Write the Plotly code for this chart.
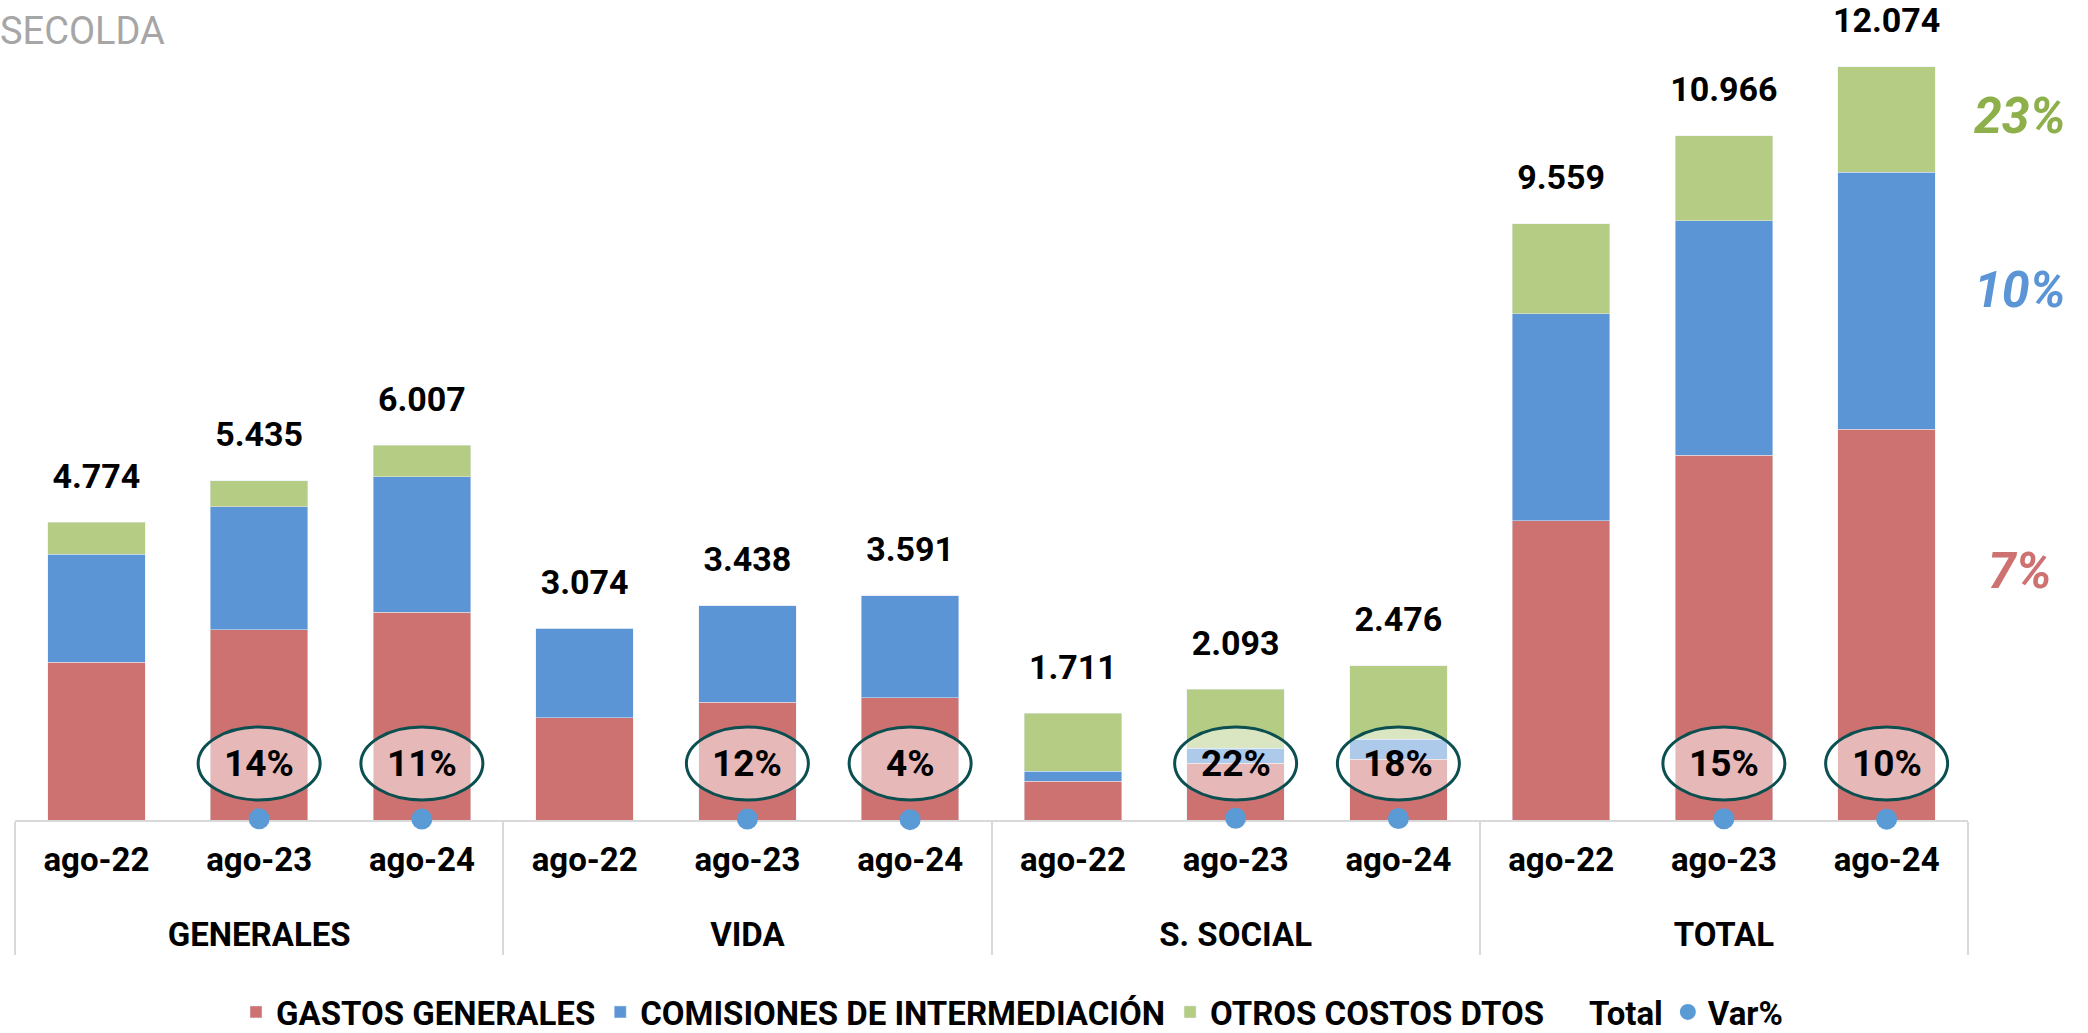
import plotly.graph_objects as go

grupos = ["GENERALES", "VIDA", "S. SOCIAL", "TOTAL"]
periodos = ["ago-22", "ago-23", "ago-24"]

gastos_generales = [2530, 3050, 3330, 1640, 1890, 1960, 625, 909, 973, 4795, 5849, 6263]
comisiones = [1730, 1970, 2170, 1434, 1548, 1631, 160, 240, 320, 3324, 3758, 4121]
otros_costos = [514, 415, 507, 0, 0, 0, 926, 944, 1183, 1440, 1359, 1690]
totales = [4774, 5435, 6007, 3074, 3438, 3591, 1711, 2093, 2476, 9559, 10966, 12074]
var_pct = [None, 0.14, 0.11, None, 0.12, 0.04, None, 0.22, 0.18, None, 0.15, 0.10]

# variacion de cada componente del TOTAL (ago-24 vs ago-23)
var_componentes = [0.07, 0.10, 0.23]

ROJO = "#CD7270"
AZUL = "#5B95D6"
VERDE = "#B4CC83"
FONT = "Roboto"

# el <br> baja la fila de grupos como en el original
x = [["<br>" + g for g in grupos for _ in periodos], periodos * len(grupos)]


def miles(v):
    return f"{v:,}".replace(",", ".")


fig = go.Figure()
fig.add_trace(go.Bar(x=x, y=gastos_generales, name="GASTOS GENERALES", marker_color=ROJO))
fig.add_trace(go.Bar(x=x, y=comisiones, name="COMISIONES DE INTERMEDIACIÓN", marker_color=AZUL))
fig.add_trace(go.Bar(x=x, y=otros_costos, name="OTROS COSTOS DTOS", marker_color=VERDE))

# totales: texto sobre cada barra
fig.add_trace(go.Scatter(
    x=x, y=totales, name="Total", mode="markers+text",
    text=[miles(v) for v in totales], textposition="top center",
    textfont=dict(family=FONT, size=34, color="black", weight="bold"),
    marker=dict(size=40, color="rgba(0,0,0,0)"),
    cliponaxis=False,
))

# Var% en eje secundario (queda sobre la base)
fig.add_trace(go.Scatter(
    x=x, y=var_pct, name="Var%", mode="markers", yaxis="y2",
    marker=dict(size=21, color="#5B9BD5"),
    cliponaxis=False,
))

shapes = []
annotations = []
for i, v in enumerate(var_pct):
    if v is None:
        continue
    shapes.append(dict(
        type="circle", xref="x", yref="y",
        xsizemode="pixel", ysizemode="pixel",
        xanchor=i, yanchor=0, x0=-61, x1=61, y0=20, y1=93,
        line=dict(color="#0B4F50", width=3),
        fillcolor="rgba(255,255,255,0.5)", layer="above",
    ))
    annotations.append(dict(
        x=i, y=0, xref="x", yref="y", yshift=57, showarrow=False,
        text=f"{round(v * 100)}%",
        font=dict(family=FONT, size=37, color="black", weight="bold"),
    ))

# etiquetas de variacion por componente, a la derecha del TOTAL
ult = len(totales) - 1
base = 0
colores_lbl = [ROJO, AZUL, "#8DB04A"]
ajustes = [54, 11, 3]
for serie, v, col, aj in zip([gastos_generales, comisiones, otros_costos], var_componentes, colores_lbl, ajustes):
    mid = base + serie[ult] / 2
    base += serie[ult]
    annotations.append(dict(
        x=1.0266, xref="paper", xanchor="center", y=mid, yref="y", yshift=aj,
        showarrow=False, text=f"{round(v * 100)}%",
        font=dict(family=FONT, size=50, color=col, weight="bold", style="italic"),
    ))

fig.update_layout(
    width=2088, height=1033,
    margin=dict(l=15, r=120, t=9, b=213, autoexpand=False),
    paper_bgcolor="white", plot_bgcolor="white",
    barmode="stack", bargap=0.4,
    font=dict(family=FONT, color="black"),
    title=dict(
        text="SECOLDA", x=0, xref="container", xanchor="left",
        y=1 - 31 / 1033, yref="container", yanchor="middle",
        font=dict(family=FONT, size=38, color="#A6A6A6"),
    ),
    xaxis=dict(
        type="multicategory", range=[-0.5, 11.5],
        showline=True, linecolor="#D9D9D9", linewidth=2,
        showdividers=True, dividercolor="#D9D9D9", dividerwidth=2,
        ticks="", showgrid=False, layer="below traces", ticklabelstandoff=9,
        tickfont=dict(family=FONT, size=33, color="black", weight="bold"),
    ),
    yaxis=dict(range=[0, 13000], visible=False, showgrid=False, zeroline=False),
    yaxis2=dict(range=[0, 100], overlaying="y", visible=False, showgrid=False, zeroline=False),
    legend=dict(
        orientation="h", x=1012 / 2088, xref="container", xanchor="center",
        y=-(1012 - 820) / 811, yref="paper", yanchor="middle",
        font=dict(family=FONT, size=33, color="black", weight="bold"),
        traceorder="normal",
    ),
    shapes=shapes,
    annotations=annotations,
    showlegend=True,
)

# sin margen del body para que el grafico ocupe la ventana exacta
fig.write_html(
    "out.html",
    config={"displayModeBar": False},
    post_script="document.body.style.margin='0';",
)
